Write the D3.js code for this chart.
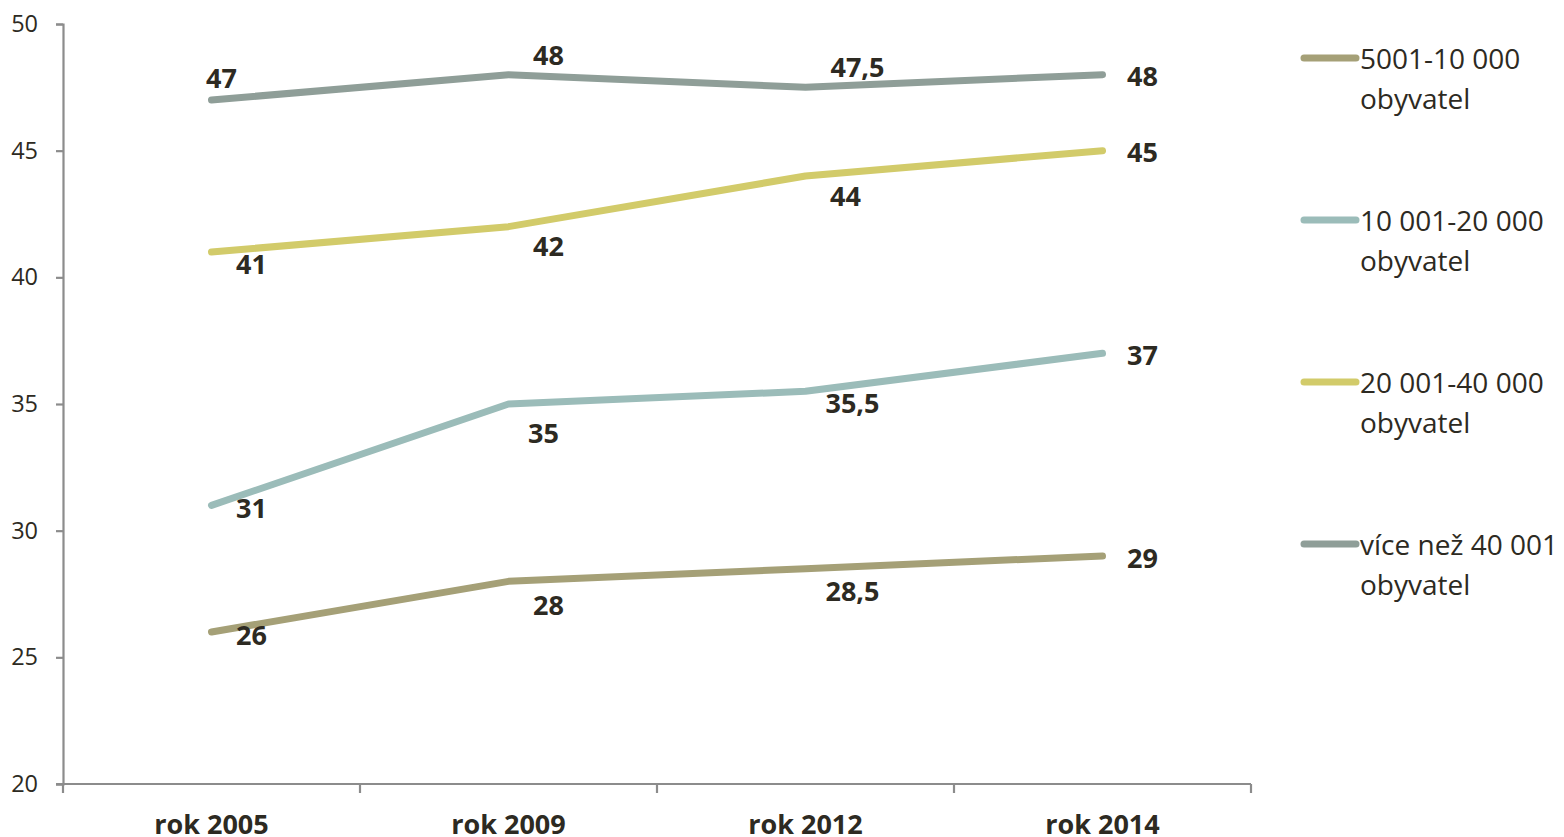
<!DOCTYPE html>
<html>
<head>
<meta charset="utf-8">
<script src="https://cdn.jsdelivr.net/npm/d3@7"></script>
<style>
  html, body { margin: 0; padding: 0; background: #fff; }
  svg { display: block; }
  text { font-family: "Open Sans", "DejaVu Sans", sans-serif; fill: #2d2a22; }
</style>
</head>
<body>
<svg id="chart" width="1564" height="837"></svg>
<script>
const categories = ["rok 2005", "rok 2009", "rok 2012", "rok 2014"];
const seriesNames = ["5001-10 000 obyvatel", "10 001-20 000 obyvatel", "20 001-40 000 obyvatel", "více než 40 001 obyvatel"];
const legendLines = [["5001-10 000", "obyvatel"], ["10 001-20 000", "obyvatel"], ["20 001-40 000", "obyvatel"], ["více než 40 001", "obyvatel"]];
const values5001 = [26, 28, 28.5, 29];
const values10001 = [31, 35, 35.5, 37];
const values20001 = [41, 42, 44, 45];
const values40001 = [47, 48, 47.5, 48];
const yTicks = [20, 25, 30, 35, 40, 45, 50];
const colors = ["#a5a077", "#9bbcb9", "#d2cb6a", "#8f9e98"];
// label offsets (dx, dy) relative to each point, per series
const labelOffsets = [
  [[40, 2], [40, 23], [47, 22], [40, 1]],
  [[40, 2], [35, 28], [47, 11], [40, 1]],
  [[40, 11], [40, 19], [40, 19], [40, 1]],
  [[10, -23], [40, -20], [52, -21], [40, 1]]
];

const allValues = [values5001, values10001, values20001, values40001];
const fmt = v => String(v).replace(".", ",");

const svg = d3.select("#chart");
const x = d3.scaleBand().domain(categories).range([63, 1251]);
const y = d3.scaleLinear().domain([20, 50]).range([784, 24]);

// y axis
const yAxis = svg.append("g").attr("transform", "translate(63,0)")
  .call(d3.axisLeft(y).tickValues(yTicks).tickSize(7).tickPadding(18));
yAxis.select(".domain").attr("stroke", "#8c8c8c").attr("stroke-width", 2.2);
yAxis.selectAll(".tick line").attr("stroke", "#8c8c8c").attr("stroke-width", 2.2);
yAxis.selectAll(".tick text").style("font-size", "23.5px").style("fill", "#2d2a22")
  .attr("font-family", null);

// x axis
const xAxis = svg.append("g").attr("transform", "translate(0,784)")
  .call(d3.axisBottom(x).tickSize(0).tickPadding(31));
xAxis.select(".domain").attr("stroke", "#8c8c8c").attr("stroke-width", 2.2)
  .attr("d", "M56,0H1251");
xAxis.selectAll(".tick text").style("font-size", "27px").style("font-weight", "700")
  .style("fill", "#2d2a22").attr("font-family", null);
// category separator ticks
const bounds = categories.map(c => x(c)).concat([x.range()[1]]);
svg.append("g").selectAll("line").data(bounds).join("line")
  .attr("x1", d => d).attr("x2", d => d).attr("y1", 784).attr("y2", 793)
  .attr("stroke", "#8c8c8c").attr("stroke-width", 2.2);

const cx = c => x(c) + x.bandwidth() / 2;
const line = d3.line().x((d, i) => cx(categories[i])).y(d => y(d));

allValues.forEach((vals, s) => {
  svg.append("path").datum(vals)
    .attr("d", line).attr("fill", "none")
    .attr("stroke", colors[s]).attr("stroke-width", 7)
    .attr("stroke-linecap", "round").attr("stroke-linejoin", "round");
});

allValues.forEach((vals, s) => {
  svg.append("g").selectAll("text").data(vals).join("text")
    .attr("x", (d, i) => cx(categories[i]) + labelOffsets[s][i][0])
    .attr("y", (d, i) => y(d) + labelOffsets[s][i][1])
    .attr("text-anchor", "middle").attr("dominant-baseline", "central")
    .style("font-size", "27px").style("font-weight", "700")
    .text(d => fmt(d));
});

// legend
const legendY = [58, 220, 382, 544];
const lg = svg.append("g");
seriesNames.forEach((name, s) => {
  const g = lg.append("g").attr("transform", `translate(0,${legendY[s]})`);
  g.append("line").attr("x1", 1304).attr("x2", 1356).attr("y1", 0).attr("y2", 0)
    .attr("stroke", colors[s]).attr("stroke-width", 7).attr("stroke-linecap", "round");
  legendLines[s].forEach((t, j) => {
    g.append("text").attr("x", 1360).attr("y", j * 40)
      .attr("dominant-baseline", "central")
      .style("font-size", "28px").text(t);
  });
});
</script>
</body>
</html>
